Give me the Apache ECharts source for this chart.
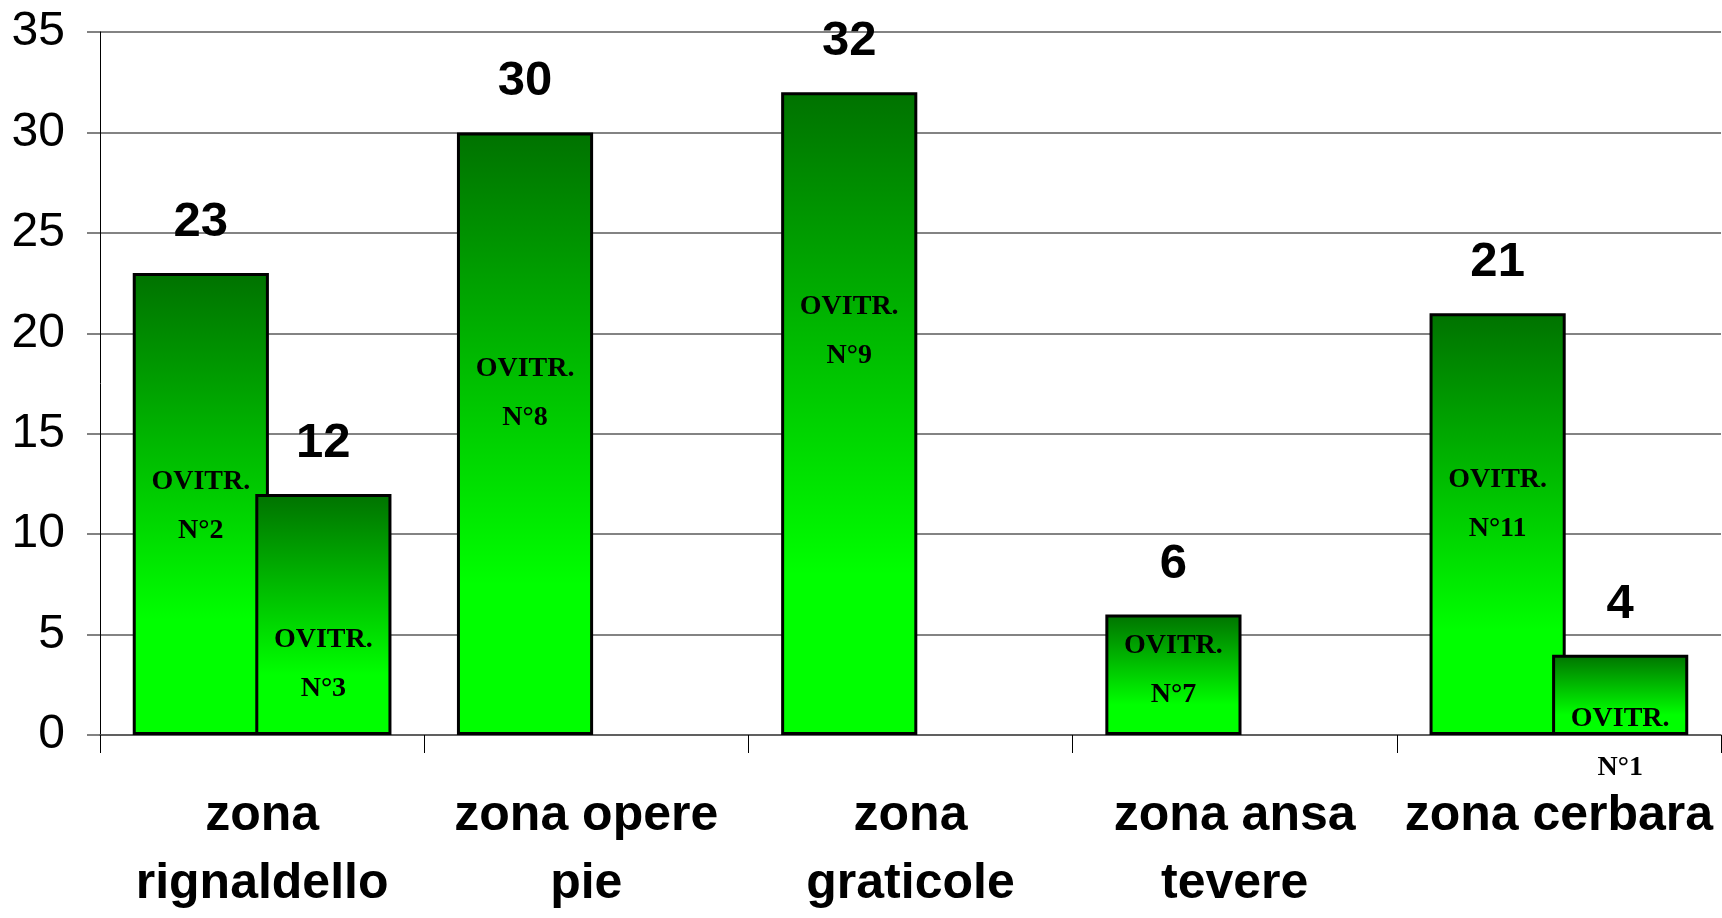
<!DOCTYPE html>
<html>
<head>
<meta charset="utf-8">
<script src="https://cdn.jsdelivr.net/npm/echarts@6/dist/echarts.min.js"></script>
<style>
  html, body { margin: 0; padding: 0; background: #fff; overflow: hidden; }
  #chart { width: 1722px; height: 918px; }
</style>
</head>
<body>
<div id="chart"></div>
<script>
// ---- data ----
const categories = ['zona\nrignaldello', 'zona opere\npie', 'zona\ngraticole', 'zona ansa\ntevere', 'zona cerbara'];
const seriesA = [23, 30, 32, 6, 21];
const seriesB = [12, null, null, null, 4];
const tagsA = ['N°2', 'N°8', 'N°9', 'N°7', 'N°11'];
const tagsB = ['N°3', null, null, null, 'N°1'];
// value level (y) at which each tag text box is centred
const tagLevelA = [11.4, 17.0, 20.1, 3.2, 11.5];
const tagLevelB = [3.5, null, null, null, -0.4];
const yTicks = { min: 0, max: 35, interval: 5 };

const NARROW = "'Liberation Sans Narrow', 'Arial Narrow', 'Liberation Sans', sans-serif";
const SERIF = "'Liberation Serif', 'Times New Roman', serif";

const GRID = { left: 100, right: 1, top: 32, bottom: 178 };

const barFill = new echarts.graphic.LinearGradient(0, 0, 0, 1, [
  { offset: 0, color: '#007200' },
  { offset: 0.75, color: '#00ff00' },
  { offset: 1, color: '#00ff00' }
]);

// pixels per value unit of the y axis, used only to shift a tag whose
// level lies just below the axis minimum (markPoints are clipped there)
const PLOT_H = 918 - GRID.top - GRID.bottom;
const PX_PER_UNIT = PLOT_H / (yTicks.max - yTicks.min);

function tagPoints(tags, levels) {
  const out = [];
  tags.forEach((t, i) => {
    if (t !== null) {
      const lv = levels[i];
      const item = { coord: [i, Math.max(lv, yTicks.min)], value: t };
      if (lv < yTicks.min) {
        item.label = { offset: [0, (yTicks.min - lv) * PX_PER_UNIT] };
      }
      out.push(item);
    }
  });
  return out;
}

function makeSeries(name, values, tags, levels) {
  return {
    name: name,
    type: 'bar',
    data: values,
    barWidth: '42%',
    barGap: '-10%',
    itemStyle: { color: barFill, borderColor: '#000', borderWidth: 3 },
    label: {
      show: true,
      position: 'top',
      distance: 26,
      fontFamily: NARROW,
      fontWeight: 'bold',
      fontSize: 49,
      color: '#000'
    },
    markPoint: {
      symbol: 'circle',
      symbolSize: 1,
      itemStyle: { color: 'rgba(0,0,0,0)' },
      label: {
        show: true,
        position: 'inside',
        formatter: p => 'OVITR.\n' + p.value,
        fontFamily: SERIF,
        fontWeight: 'bold',
        fontSize: 28,
        lineHeight: 49,
        color: '#000',
        textShadowColor: '#ffffff',
        textShadowOffsetX: 1,
        textShadowOffsetY: 1,
        textShadowBlur: 0
      },
      data: tagPoints(tags, levels)
    },
    z: 2
  };
}

const chart = echarts.init(document.getElementById('chart'));
chart.setOption({
  animation: false,
  backgroundColor: '#ffffff',
  grid: GRID,
  xAxis: {
    type: 'category',
    data: categories,
    axisLine: { show: true, lineStyle: { color: '#555', width: 1.5 } },
    axisTick: { show: true, length: 18, lineStyle: { color: '#000', width: 1 } },
    axisLabel: {
      margin: 47,
      fontFamily: NARROW,
      fontWeight: 'bold',
      fontSize: 50,
      lineHeight: 68,
      color: '#000',
      interval: 0
    }
  },
  yAxis: {
    type: 'value',
    min: yTicks.min,
    max: yTicks.max,
    interval: yTicks.interval,
    axisLine: { show: true, lineStyle: { color: '#000', width: 1 } },
    axisTick: { show: true, length: 13, lineStyle: { color: '#5a5a5a', width: 1.5 } },
    axisLabel: {
      margin: 35,
      fontFamily: NARROW,
      fontSize: 48,
      color: '#000'
    },
    splitLine: { show: true, lineStyle: { color: '#5a5a5a', width: 1.5 } }
  },
  series: [
    makeSeries('A', seriesA, tagsA, tagLevelA),
    makeSeries('B', seriesB, tagsB, tagLevelB)
  ]
});
</script>
</body>
</html>
